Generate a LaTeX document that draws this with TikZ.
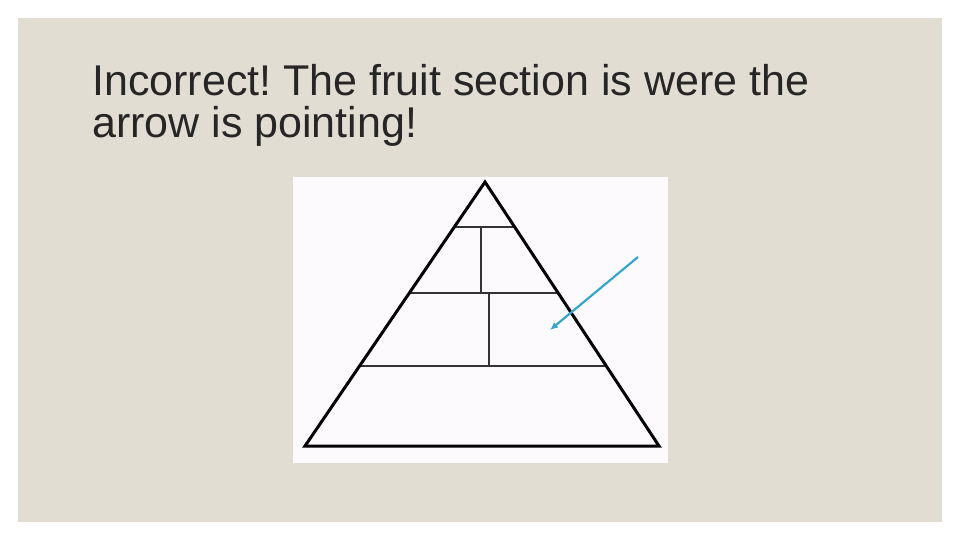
\documentclass[tikz,border=0pt]{standalone}
\usepackage{fontspec}
\setmainfont{Liberation Sans}
\usetikzlibrary{arrows.meta}
\definecolor{slidebg}{HTML}{E2DDD2}
\definecolor{picbg}{HTML}{FDFAFD}
\definecolor{titlecol}{HTML}{262626}
\definecolor{arrowcol}{HTML}{38A6CC}
\tikzset{
  titletext/.style={anchor=base west, inner sep=0pt, text=titlecol, font=\fontsize{43}{44}\selectfont},
  outline/.style={line width=3pt, black, line join=miter},
  divider/.style={line width=1.8pt, black!80},
  pointer/.style={line width=2.2pt, arrowcol, -{Latex[length=8pt,width=7pt]}}
}
\frenchspacing
\begin{document}
\begin{tikzpicture}[x=1pt,y=-1pt]
\useasboundingbox (0,0) rectangle (960,540);
\fill[white] (0,0) rectangle (960,540);
\fill[slidebg] (18,18) rectangle (942,522);
\node[titletext] (t1) at (92,96) {Incorrect! The fruit section is were the};
\node[titletext] (t2) at (92,138) {arrow is pointing!};
\fill[picbg] (293,177) rectangle (668,463);
% pyramid
\coordinate (apex) at (485,182);
\coordinate (bl) at (305,446);
\coordinate (br) at (659,446);
\draw[divider] (455,227) -- (514,227);
\draw[divider] (481,227) -- (481,293);
\draw[divider] (410,293) -- (557,293);
\draw[divider] (489,293) -- (489,366);
\draw[divider] (361,366) -- (606,366);
\draw[outline] (apex) -- (bl) -- (br) -- cycle;
% arrow
\coordinate (astart) at (638,257);
\coordinate (aend) at (550,330);
\draw[pointer] (astart) -- (aend);
\end{tikzpicture}
\end{document}
